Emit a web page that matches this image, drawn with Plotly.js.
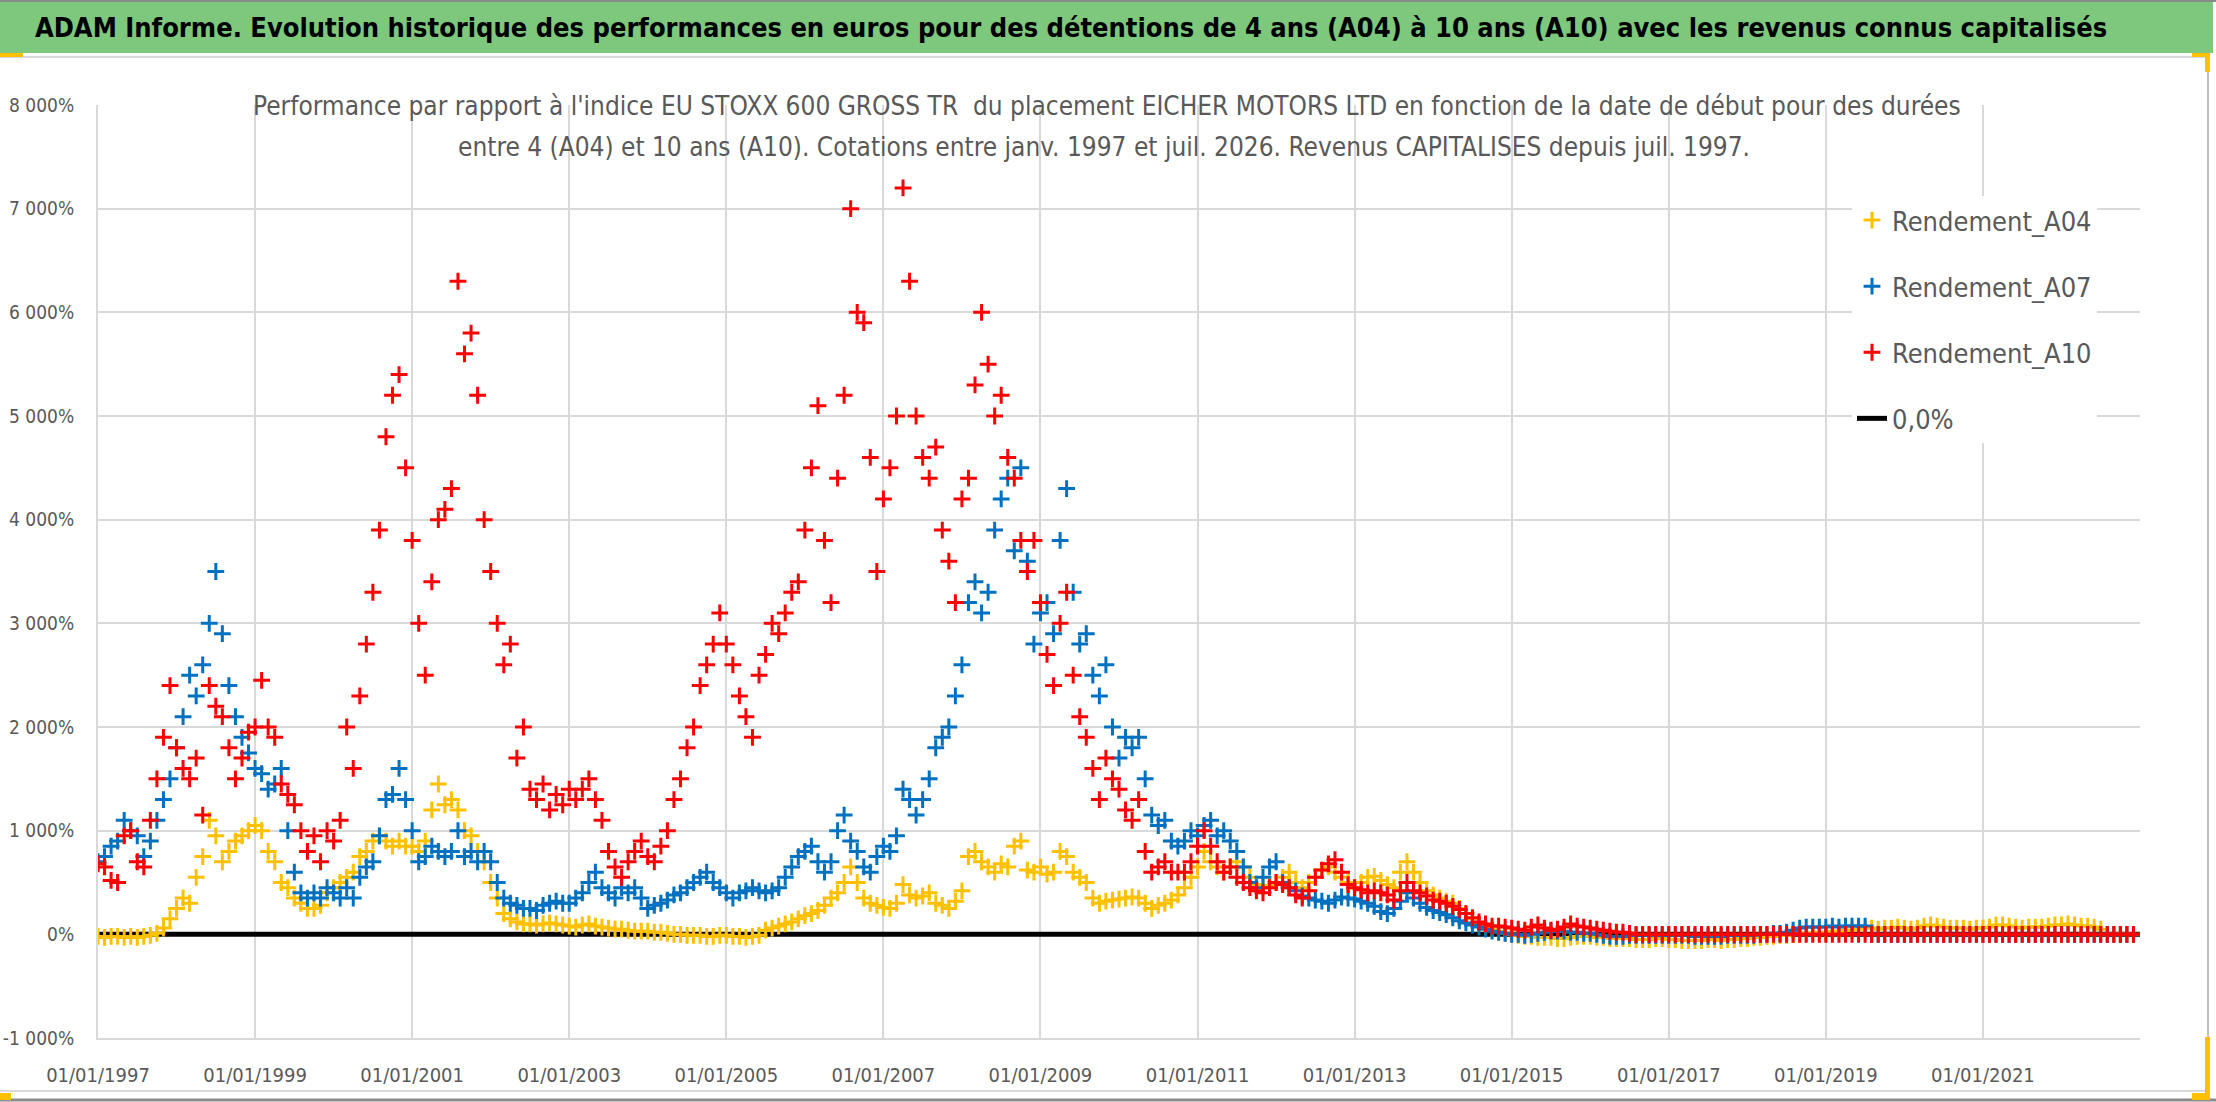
<!DOCTYPE html>
<html>
<head>
<meta charset="utf-8">
<script src="https://cdn.plot.ly/plotly-3.0.1.min.js"></script>
<style>
  html, body { margin: 0; padding: 0; background: #fff; }
  #chart { width: 2216px; height: 1102px; }
</style>
</head>
<body>
<div id="chart"></div>
<script>
// monthly values (in %), first value = janv. 1997
const a04 = [
  -20, -30, -20, -20, -30, -20, -30, -20, -10, 10, 60, 150,
  250, 350, 300, 550, 750, 1100, 950, 700, 800, 900, 950, 1000,
  1050, 1000, 800, 700, 500, 450, 350, 300, 250, 250, 280, 400,
  450, 500, 550, 600, 750, 800, 900, 950, 900, 850, 900, 850,
  850, 800, 900, 1200, 1450, 1250, 1300, 1200, 1000, 950, 800, 700,
  500, 350, 200, 150, 120, 100, 100, 90, 100, 110, 100, 90,
  80, 70, 90, 100, 80, 70, 60, 50, 50, 40, 30, 30,
  30, 20, 20, 10, 0, 0, -10, -10, -10, -20, -20, -10,
  -10, -20, -20, -30, -20, -10, 40, 60, 80, 100, 120, 150,
  180, 200, 230, 280, 350, 400, 500, 650, 500, 350, 300, 280,
  260, 250, 300, 480, 380, 350, 370, 400, 300, 280, 250, 320,
  420, 750, 800, 700, 650, 600, 680, 650, 850, 900, 620, 600,
  650, 580, 600, 800, 750, 600, 550, 500, 350, 300, 320, 330,
  340, 350, 360, 350, 300, 250, 280, 300, 330, 380, 450, 550,
  650, 800, 700, 650, 600, 650, 700, 650, 550, 480, 450, 470,
  500, 550, 600, 500, 450, 500, 550, 620, 650, 600, 550, 500,
  450, 500, 550, 560, 520, 480, 450, 600, 700, 600, 500, 420,
  380, 350, 320, 300, 250, 200, 150, 100, 70, 50, 30, 10,
  0, -10, -20, -20, -30, -30, -30, -40, -40, -30, -20, -20,
  -20, -30, -30, -40, -40, -40, -40, -50, -50, -50, -40, -40,
  -50, -50, -60, -60, -60, -60, -50, -50, -60, -50, -50, -40,
  -40, -30, -30, -20, -20, -10, -10, 0, 0, 10, 10, 20,
  20, 30, 30, 40, 40, 50, 60, 60, 50, 60, 60, 70,
  60, 50, 60, 80, 90, 80, 70, 60, 60, 60, 50, 60,
  60, 70, 90, 90, 80, 70, 60, 70, 70, 70, 80, 90,
  90, 100, 90, 80, 80, 70, 50, 0, 0, 0, 0, 0
];
const a07 = [
  700, 750, 850, 900, 1100, 1000, 950, 750, 900, 1100, 1300, 1500,
  1800, 2100, 2500, 2300, 2600, 3000, 3500, 2900, 2400, 2100, 1900, 1750,
  1600, 1550, 1400, 1450, 1600, 1000, 600, 400, 350, 400, 350, 450,
  400, 350, 450, 350, 550, 650, 700, 950, 1300, 1350, 1600, 1300,
  1000, 700, 750, 850, 800, 750, 800, 1000, 750, 800, 700, 800,
  700, 500, 350, 300, 280, 250, 250, 230, 280, 300, 320, 300,
  300, 350, 400, 500, 600, 450, 400, 350, 450, 400, 450, 350,
  250, 280, 300, 330, 380, 400, 450, 500, 550, 600, 500, 450,
  400, 350, 400, 420, 450, 420, 400, 420, 450, 550, 650, 750,
  800, 850, 700, 600, 700, 1000, 1150, 900, 800, 650, 600, 750,
  850, 800, 950, 1400, 1300, 1150, 1300, 1500, 1800, 1900, 2000, 2300,
  2600, 3200, 3400, 3100, 3300, 3900, 4200, 4400, 3700, 4500, 3600, 2800,
  3100, 3200, 2900, 3800, 4300, 3300, 2800, 2900, 2500, 2300, 2600, 2000,
  1700, 1900, 1800, 1900, 1500, 1150, 1050, 1100, 900, 850, 900, 1000,
  950, 1050, 1100, 950, 1000, 900, 800, 650, 500, 450, 550, 650,
  700, 500, 450, 420, 370, 350, 330, 320, 300, 330, 360, 350,
  340, 320, 300, 270, 220, 200, 250, 320, 400, 350, 300, 260,
  230, 210, 190, 160, 130, 110, 90, 70, 50, 30, 20, 10,
  0, 0, -10, 0, 10, 20, 30, 30, 30, 20, 20, 10,
  10, 0, -10, -20, -20, -20, -10, -10, -10, -10, -10, -10,
  -10, -10, -10, -10, -20, -20, -20, -20, -20, -10, -10, -10,
  -10, -10, 0, 0, 10, 10, 20, 40, 60, 70, 70, 70,
  70, 80, 70, 80, 80, 80, 80, 0, 0, 0, 0, 0,
  0, 0, 0, 0, 0, 0, 0, 0, 0, 0, 0, 0,
  0, 0, 0, 0, 0, 0, 0, 0, 0, 0, 0, 0,
  0, 0, 0, 0, 0, 0, 0, 0, 0, 0, 0, 0
];
const a10 = [
  680, 650, 520, 500, 950, 1000, 700, 650, 1100, 1500, 1900, 2400,
  1800, 1600, 1500, 1700, 1150, 2400, 2200, 2100, 1800, 1500, 1700, 1950,
  2000, 2450, 2000, 1900, 1450, 1350, 1250, 1000, 800, 950, 700, 1000,
  900, 1100, 2000, 1600, 2300, 2800, 3300, 3900, 4800, 5200, 5400, 4500,
  3800, 3000, 2500, 3400, 4000, 4100, 4300, 6300, 5600, 5800, 5200, 4000,
  3500, 3000, 2600, 2800, 1700, 2000, 1400, 1300, 1450, 1200, 1350, 1250,
  1400, 1300, 1400, 1500, 1300, 1100, 800, 650, 550, 700, 800, 900,
  750, 700, 850, 1000, 1300, 1500, 1800, 2000, 2400, 2600, 2800, 3100,
  2800, 2600, 2300, 2100, 1900, 2500, 2700, 3000, 2900, 3100, 3300, 3400,
  3900, 4500, 5100, 3800, 3200, 4400, 5200, 7000, 6000, 5900, 4600, 3500,
  4200, 4500, 5000, 7200, 6300, 5000, 4600, 4400, 4700, 3900, 3600, 3200,
  4200, 4400, 5300, 6000, 5500, 5000, 5200, 4600, 4400, 3800, 3500, 3800,
  3200, 2700, 2400, 3000, 3300, 2500, 2100, 1900, 1600, 1300, 1700, 1500,
  1400, 1200, 1100, 1300, 800, 600, 650, 700, 600, 600, 600, 700,
  850, 1000, 850, 700, 600, 650, 550, 500, 450, 420, 400, 450,
  500, 480, 450, 380, 350, 420, 550, 620, 680, 720, 600, 480,
  450, 430, 400, 420, 400, 380, 330, 420, 500, 420, 400, 370,
  330, 320, 300, 270, 240, 200, 160, 120, 100, 80, 80, 70,
  60, 50, 40, 70, 90, 60, 40, 50, 70, 100, 80, 70,
  60, 50, 40, 30, 20, 20, 10, 0, 0, 0, 0, 0,
  0, 0, 0, 0, 0, 0, 0, 0, 0, 0, 0, 0,
  0, 0, 0, 0, 0, 0, 0, 0, 0, 0, 0, 0,
  0, 0, 0, 0, 0, 0, 0, 0, 0, 0, 0, 0,
  0, 0, 0, 0, 0, 0, 0, 0, 0, 0, 0, 0,
  0, 0, 0, 0, 0, 0, 0, 0, 0, 0, 0, 0,
  0, 0, 0, 0, 0, 0, 0, 0, 0, 0, 0, 0
];
const startYear = 1997;
const zeroX = [1997, 2023];
const zeroY = [0, 0];

const xTickYears = [1997, 1999, 2001, 2003, 2005, 2007, 2009, 2011, 2013, 2015, 2017, 2019, 2021];
const xTickText = ['01/01/1997', '01/01/1999', '01/01/2001', '01/01/2003', '01/01/2005', '01/01/2007',
  '01/01/2009', '01/01/2011', '01/01/2013', '01/01/2015', '01/01/2017', '01/01/2019', '01/01/2021'];
const yTicks = [-1000, 0, 1000, 2000, 3000, 4000, 5000, 6000, 7000, 8000];
const yTickText = ['-1 000%', '0%', '1 000%', '2 000%', '3 000%', '4 000%', '5 000%', '6 000%', '7 000%', '8 000%'];

const seriesNames = ['Rendement_A04', 'Rendement_A07', 'Rendement_A10'];
const seriesColors = ['#FFC000', '#0070C0', '#FF0000'];

const W = 2216, H = 1102;
const plotL = 98, plotR = 2140, plotT = 105, plotB = 1038;
// pixel -> paper helpers for the decorations
const px = x => (x - plotL) / (plotR - plotL);
const py = y => (plotB - y) / (plotB - plotT);

const FONT = 'DejaVu Sans Condensed, Liberation Sans Narrow, sans-serif';

const monthYears = a04.map((_, i) => startYear + i / 12);

const traces = [{
  x: zeroX, y: zeroY, mode: 'lines', name: '0,0%',
  line: { color: '#000000', width: 5 },
  legendgroup: 'd', legendrank: 4
}];
[a04, a07, a10].forEach((vals, k) => {
  traces.push({
    x: monthYears, y: vals, mode: 'markers', name: seriesNames[k],
    marker: { symbol: 'cross-thin', size: 12, color: seriesColors[k],
      line: { color: seriesColors[k], width: 3 } },
    legendgroup: 'g' + k, legendrank: k + 1
  });
});

const grey = '#d9d9d9';
const layout = {
  width: W, height: H,
  margin: { l: plotL, r: W - plotR, t: plotT, b: H - plotB },
  paper_bgcolor: '#ffffff', plot_bgcolor: '#ffffff',
  font: { family: FONT, color: '#595959' },
  showlegend: true,
  hovermode: false,
  title: {
    text: '<b>ADAM Informe. Evolution historique des performances en euros pour des détentions de 4 ans (A04) à 10 ans (A10) avec les revenus connus capitalisés</b>',
    font: { family: FONT, size: 27, color: '#000000' },
    xref: 'container', yref: 'container',
    x: 1071 / W, xanchor: 'center', y: 1 - 28 / H, yanchor: 'middle'
  },
  xaxis: {
    range: [1997, 2023], tickmode: 'array', tickvals: xTickYears, ticktext: xTickText,
    showgrid: true, gridcolor: grey, gridwidth: 2, zeroline: false,
    showline: true, linecolor: grey, linewidth: 2, ticks: '',
    tickfont: { size: 20, color: '#595959' }, ticklabelstandoff: 18, fixedrange: true
  },
  yaxis: {
    range: [-1000, 8000], tickmode: 'array', tickvals: yTicks, ticktext: yTickText,
    showgrid: true, gridcolor: grey, gridwidth: 2, zeroline: false,
    showline: true, linecolor: grey, linewidth: 2, ticks: '',
    tickfont: { size: 19, color: '#595959' }, ticklabelstandoff: 18, fixedrange: true
  },
  legend: {
    x: px(1852), y: py(196), xanchor: 'left', yanchor: 'top',
    bgcolor: '#ffffff', borderwidth: 0,
    font: { family: FONT, size: 27, color: '#595959' },
    tracegroupgap: 28, traceorder: 'grouped', itemwidth: 30
  },
  annotations: [
    { xref: 'paper', yref: 'paper', x: px(1107), y: py(106), xanchor: 'center', yanchor: 'middle',
      showarrow: false, font: { family: FONT, size: 26, color: '#595959' },
      text: "Performance par rapport à l'indice EU STOXX 600 GROSS TR  du placement EICHER MOTORS LTD en fonction de la date de début pour des durées" },
    { xref: 'paper', yref: 'paper', x: px(1104), y: py(147), xanchor: 'center', yanchor: 'middle',
      showarrow: false, font: { family: FONT, size: 26, color: '#595959' },
      text: 'entre 4 (A04) et 10 ans (A10). Cotations entre janv. 1997 et juil. 2026. Revenus CAPITALISES depuis juil. 1997.' }
  ],
  shapes: [
    // green banner
    { type: 'rect', xref: 'paper', yref: 'paper', layer: 'below',
      x0: px(0), x1: px(2213), y0: py(53), y1: py(0),
      fillcolor: '#7dc87d', line: { width: 0 } },
    // thin line under the banner
    { type: 'line', xref: 'paper', yref: 'paper', layer: 'below',
      x0: px(0), x1: px(2208), y0: py(57), y1: py(57), line: { color: grey, width: 2 } },
    // chart frame
    { type: 'line', xref: 'paper', yref: 'paper', layer: 'below',
      x0: px(2208), x1: px(2208), y0: py(57), y1: py(1091), line: { color: '#bfbfbf', width: 2 } },
    { type: 'line', xref: 'paper', yref: 'paper', layer: 'below',
      x0: px(0), x1: px(2208), y0: py(1091), y1: py(1091), line: { color: grey, width: 2 } },
    { type: 'line', xref: 'paper', yref: 'paper', layer: 'below',
      x0: px(0), x1: px(2216), y0: py(1), y1: py(1), line: { color: '#8a8a8a', width: 2 } },
    { type: 'line', xref: 'paper', yref: 'paper', layer: 'below',
      x0: px(0), x1: px(2216), y0: py(1100), y1: py(1100), line: { color: '#8a8a8a', width: 3 } },
    // white boxes hiding the grid behind the subtitle and the legend
    { type: 'rect', xref: 'paper', yref: 'paper', layer: 'between',
      x0: px(238), x1: px(1973), y0: py(169), y1: py(95),
      fillcolor: '#ffffff', line: { width: 0 } },
    { type: 'rect', xref: 'paper', yref: 'paper', layer: 'between',
      x0: px(1808), x1: px(2140), y0: py(450), y1: py(193),
      fillcolor: '#ffffff', line: { width: 0 } },
    // selection handles
    { type: 'rect', xref: 'paper', yref: 'paper', layer: 'above',
      x0: px(0), x1: px(23), y0: py(57), y1: py(53), fillcolor: '#FFC000', line: { width: 0 } },
    { type: 'rect', xref: 'paper', yref: 'paper', layer: 'above',
      x0: px(2192), x1: px(2210), y0: py(57), y1: py(53), fillcolor: '#FFC000', line: { width: 0 } },
    { type: 'rect', xref: 'paper', yref: 'paper', layer: 'above',
      x0: px(2205), x1: px(2210), y0: py(72), y1: py(53), fillcolor: '#FFC000', line: { width: 0 } },
    { type: 'rect', xref: 'paper', yref: 'paper', layer: 'above',
      x0: px(2192), x1: px(2210), y0: py(1100), y1: py(1093), fillcolor: '#FFC000', line: { width: 0 } },
    { type: 'rect', xref: 'paper', yref: 'paper', layer: 'above',
      x0: px(2205), x1: px(2210), y0: py(1100), y1: py(1037), fillcolor: '#FFC000', line: { width: 0 } },
    { type: 'rect', xref: 'paper', yref: 'paper', layer: 'above',
      x0: px(0), x1: px(11), y0: py(1100), y1: py(1093), fillcolor: '#FFC000', line: { width: 0 } }
  ]
};

Plotly.newPlot('chart', traces, layout, { displayModeBar: false, staticPlot: true });
</script>
</body>
</html>
